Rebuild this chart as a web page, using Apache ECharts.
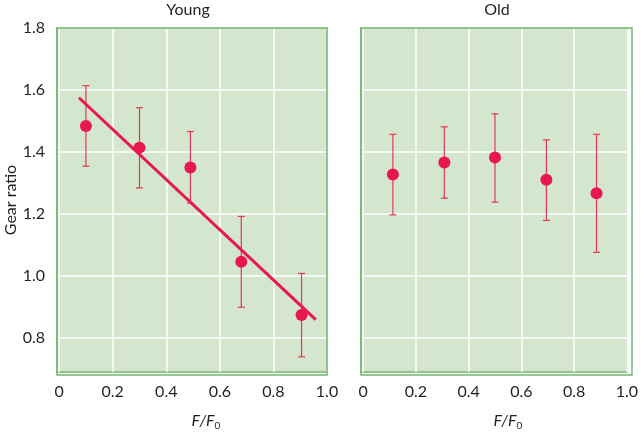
<!DOCTYPE html>
<html>
<head>
<meta charset="utf-8">
<script src="https://cdn.jsdelivr.net/npm/echarts@6/dist/echarts.min.js"></script>
<style>html,body{margin:0;padding:0;background:#fff}#c{width:641px;height:436px}</style>
</head>
<body>
<div id="c"></div>
<script>
// ---- data ----
const panelTitles = ['Young', 'Old'];
const yTicks = [0.8, 1.0, 1.2, 1.4, 1.6, 1.8];
const xTicks = [0, 0.2, 0.4, 0.6, 0.8, 1.0];
const youngX = [0.10, 0.30, 0.49, 0.68, 0.905];
const youngMean = [1.484, 1.414, 1.350, 1.046, 0.874];
const youngLow = [1.354, 1.284, 1.235, 0.899, 0.739];
const youngHigh = [1.614, 1.543, 1.466, 1.192, 1.008];
const oldX = [0.113, 0.308, 0.50, 0.695, 0.885];
const oldMean = [1.327, 1.366, 1.382, 1.310, 1.267];
const oldLow = [1.197, 1.251, 1.238, 1.179, 1.076];
const oldHigh = [1.457, 1.481, 1.523, 1.439, 1.457];
const fitX = [0.074, 0.958];
const fitY = [1.575, 0.859];

// ---- style ----
const RED = '#e8174c';
const BAR = '#e23a5c';
const TXT = '#231f20';
const FONT = 'Lato, "Noto Sans", sans-serif';
const FS = 16;
const BG = '#d4e6cd';
const BORDER = '#72b872';

const chart = echarts.init(document.getElementById('c'), null, {renderer: 'canvas'});

function errItem(params, api) {
  const x = api.value(0), lo = api.value(1), hi = api.value(2);
  const p1 = api.coord([x, lo]), p2 = api.coord([x, hi]);
  const w = 3.5;
  const st = {stroke: BAR, lineWidth: 1.2};
  return {type: 'group', children: [
    {type: 'line', shape: {x1: p1[0], y1: p1[1], x2: p2[0], y2: p2[1]}, style: st},
    {type: 'line', shape: {x1: p1[0] - w, y1: p1[1], x2: p1[0] + w, y2: p1[1]}, style: st},
    {type: 'line', shape: {x1: p2[0] - w, y1: p2[1], x2: p2[0] + w, y2: p2[1]}, style: st}
  ]};
}

function xAxisDef(idx) {
  return {
    type: 'value', gridIndex: idx, min: -0.008, max: 1.0,
    axisLine: {show: false}, axisTick: {show: false, customValues: xTicks},
    axisLabel: {customValues: xTicks, color: TXT, fontFamily: FONT, fontSize: FS, margin: 12,
      formatter: v => (v === 0 ? '0' : v.toFixed(1))},
    splitLine: {show: true, lineStyle: {color: '#ffffff', width: 1.5}},
    name: '{i|F/F}{s|0}', nameLocation: 'middle', nameGap: 39,
    nameTextStyle: {padding: [0, 0, 0, 28], rich: {
      i: {fontFamily: FONT, fontStyle: 'italic', fontSize: FS, color: TXT},
      s: {fontFamily: FONT, fontSize: 10, color: TXT, padding: [10, 0, 0, 0]}
    }}
  };
}
function yAxisDef(idx, showLabels) {
  return {
    type: 'value', gridIndex: idx, min: 0.69, max: 1.8,
    axisLine: {show: false}, axisTick: {show: false, customValues: yTicks},
    axisLabel: {show: showLabels, customValues: yTicks, color: TXT, fontFamily: FONT, fontSize: FS, margin: 12,
      formatter: v => v.toFixed(1)},
    splitLine: {show: true, lineStyle: {color: '#ffffff', width: 1.5}},
    name: showLabels ? 'Gear ratio' : '', nameLocation: 'middle', nameGap: 38, nameRotate: 90,
    nameTextStyle: {fontFamily: FONT, fontSize: FS, color: TXT}
  };
}

const option = {
  backgroundColor: '#ffffff',
  animation: false,
  grid: [
    {left: 57, top: 28, width: 270, height: 347, show: true, backgroundColor: BG, borderColor: BORDER, borderWidth: 1.5},
    {left: 361, top: 28, width: 271, height: 347, show: true, backgroundColor: BG, borderColor: BORDER, borderWidth: 1.5}
  ],
  graphic: [
    {type: 'rect', shape: {x: 57, y: 28, width: 270, height: 347}, style: {fill: 'none', stroke: BORDER, lineWidth: 1.5}, z: 100},
    {type: 'rect', shape: {x: 361, y: 28, width: 271, height: 347}, style: {fill: 'none', stroke: BORDER, lineWidth: 1.5}, z: 100},
    {type: 'text', x: 188, y: 10, style: {text: panelTitles[0], align: 'center', verticalAlign: 'middle', fill: TXT, font: FS + 'px ' + FONT}},
    {type: 'text', x: 497, y: 10, style: {text: panelTitles[1], align: 'center', verticalAlign: 'middle', fill: TXT, font: FS + 'px ' + FONT}}
  ],
  xAxis: [xAxisDef(0), xAxisDef(1)],
  yAxis: [yAxisDef(0, true), yAxisDef(1, false)],
  series: [
    {type: 'custom', xAxisIndex: 0, yAxisIndex: 0, renderItem: errItem, encode: {x: 0, y: [1, 2]},
      data: youngX.map((x, i) => [x, youngLow[i], youngHigh[i]]), z: 2},
    {type: 'custom', xAxisIndex: 1, yAxisIndex: 1, renderItem: errItem, encode: {x: 0, y: [1, 2]},
      data: oldX.map((x, i) => [x, oldLow[i], oldHigh[i]]), z: 2},
    {type: 'line', xAxisIndex: 0, yAxisIndex: 0, data: fitX.map((x, i) => [x, fitY[i]]),
      symbol: 'none', lineStyle: {color: RED, width: 3}, z: 3},
    {type: 'scatter', xAxisIndex: 0, yAxisIndex: 0, data: youngX.map((x, i) => [x, youngMean[i]]),
      symbol: 'circle', symbolSize: 12, itemStyle: {color: RED, opacity: 1}, z: 4},
    {type: 'scatter', xAxisIndex: 1, yAxisIndex: 1, data: oldX.map((x, i) => [x, oldMean[i]]),
      symbol: 'circle', symbolSize: 12, itemStyle: {color: RED, opacity: 1}, z: 4}
  ]
};
chart.setOption(option);
</script>
</body>
</html>
